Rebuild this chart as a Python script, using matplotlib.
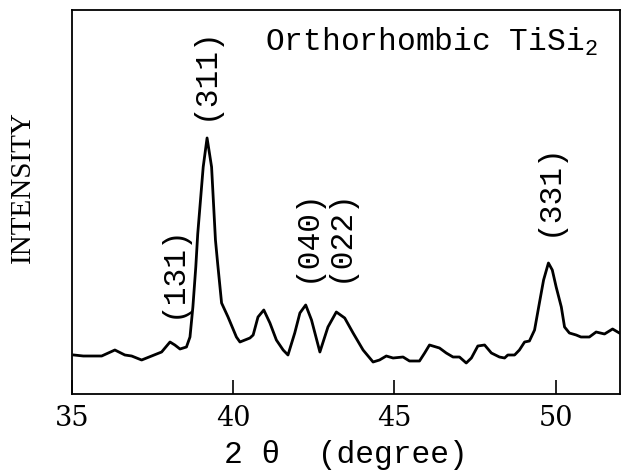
import matplotlib
matplotlib.use('Agg')
import matplotlib.pyplot as plt

# XRD pattern of orthorhombic TiSi2 (arbitrary intensity)
two_theta = [35.06, 35.35, 35.92, 36.33, 36.64, 36.85, 37.16, 37.47, 37.78, 38.04,
             38.19, 38.35, 38.55, 38.66, 38.75, 38.84, 38.90, 39.07, 39.19, 39.33,
             39.45, 39.52, 39.64, 39.84, 40.10, 40.21, 40.52, 40.62, 40.77, 40.95,
             41.14, 41.34, 41.55, 41.70, 41.91, 42.07, 42.25, 42.43, 42.69, 42.94,
             43.20, 43.46, 43.72, 44.03, 44.34, 44.54, 44.75, 44.96, 45.27, 45.47,
             45.78, 45.94, 46.09, 46.40, 46.61, 46.82, 47.02, 47.23, 47.39, 47.59,
             47.80, 48.01, 48.26, 48.42, 48.52, 48.73, 48.88, 49.04, 49.19, 49.35,
             49.50, 49.63, 49.78, 49.90, 50.02, 50.18, 50.28, 50.43, 50.64, 50.79,
             51.05, 51.26, 51.52, 51.77, 51.98]
intensity = [39, 38, 38, 44, 39, 38, 34, 38, 42, 52,
             49, 45, 47, 57, 87, 127, 160, 227, 256, 227,
             154, 130, 91, 77, 57, 52, 56, 59, 77, 84,
             71, 54, 44, 39, 61, 81, 89, 74, 42, 67,
             82, 76, 61, 44, 32, 34, 38, 36, 37, 33,
             33, 41, 49, 46, 41, 37, 37, 31, 36, 48,
             49, 41, 37, 36, 39, 39, 44, 52, 53, 64,
             91, 114, 131, 124, 107, 87, 67, 61, 59, 57,
             57, 62, 60, 65, 61]

# peak labels: (hkl), position, height of the label's lower end
peak_names = ['(131)', '(311)', '(040)', '(022)', '(331)']
peak_pos = [38.13, 39.12, 42.27, 43.30, 49.78]
label_base = [76, 274, 112, 112, 158]

xticks = [35, 40, 45, 50]

plt.rcParams['mathtext.default'] = 'regular'
mono = 'Liberation Mono'

fig = plt.figure(figsize=(6.3, 4.73), dpi=100)
ax = fig.add_axes([0.1143, 0.167, 0.8698, 0.812])

ax.plot(two_theta, intensity, color='black', lw=2)

for name, x, y in zip(peak_names, peak_pos, label_base):
    ax.text(x, y, name, rotation=90, ha='center', va='bottom',
            family=mono, fontsize=22.5)

ax.text(40.98, 352, 'Orthorhombic TiSi$_2$', ha='left', va='center',
        family=mono, fontsize=22.5)

ax.set_xlim(35, 52)
ax.set_ylim(0, 384)
ax.set_xticks(xticks)
ax.set_xticklabels([str(t) for t in xticks], family='DejaVu Serif', fontsize=19.5)
ax.tick_params(axis='x', direction='in', length=10, width=1.2, pad=8)
ax.set_yticks([])

for s in ax.spines.values():
    s.set_linewidth(1.3)

ax.set_xlabel('2 θ  (degree)', family=mono, fontsize=22.5, labelpad=6)
ax.set_ylabel('INTENSITY', family='Liberation Serif', fontsize=21)
ax.yaxis.set_label_coords(-0.065, 0.54)

fig.savefig('out.png', dpi=100)
